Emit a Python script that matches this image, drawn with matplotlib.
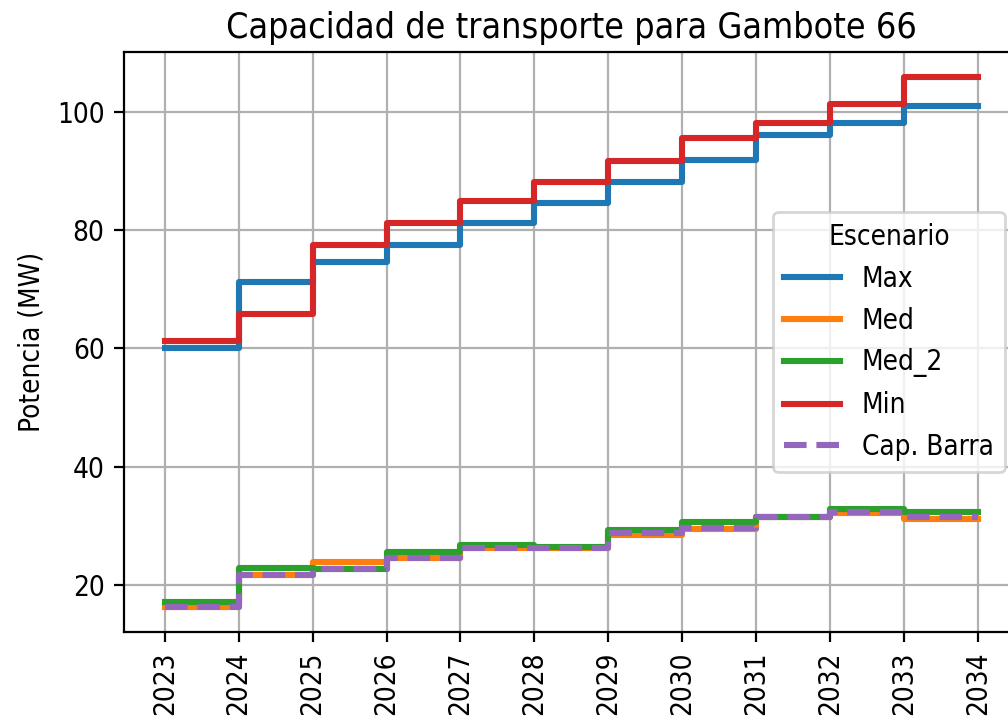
import matplotlib
matplotlib.use('Agg')
import matplotlib.pyplot as plt
import numpy as np

# --- years and scenario series (MW)
anios = np.arange(2023, 2035)
maxv = [60.1, 71.3, 74.6, 77.6, 81.2, 84.6, 88.2, 91.9, 96.1, 98.2, 101.0, 101.0]
med = [16.3, 21.7, 23.8, 24.5, 26.3, 26.2, 28.4, 29.4, 31.5, 32.1, 31.1, 31.1]
med2 = [17.0, 22.8, 22.7, 25.5, 26.8, 26.4, 29.2, 30.6, 31.5, 32.8, 32.3, 32.3]
minv = [61.3, 65.9, 77.6, 81.2, 84.9, 88.2, 91.8, 95.7, 98.2, 101.4, 105.9, 105.9]
cap_barra = [16.3, 21.7, 22.7, 24.5, 26.3, 26.3, 28.7, 29.6, 31.5, 32.3, 31.4, 31.4]

plt.rcParams['font.family'] = 'DejaVu Sans'
plt.rcParams['font.stretch'] = 'condensed'

fig = plt.figure(figsize=(1008/200, 719/200), dpi=200)
ax = fig.add_axes([0.123, 0.121, 0.8877, 0.8067])

lw = 2.2
ax.step(anios, maxv, where='post', color='tab:blue', lw=lw, label='Max')
ax.step(anios, med, where='post', color='tab:orange', lw=lw, label='Med')
ax.step(anios, med2, where='post', color='tab:green', lw=lw, label='Med_2')
ax.step(anios, minv, where='post', color='tab:red', lw=lw, label='Min')
ax.step(anios, cap_barra, where='post', color='tab:purple', lw=lw, ls='--', label='Cap. Barra')

ax.set_xticks(anios)
ax.set_xticklabels([str(a) for a in anios], rotation=90)
ax.set_xlim(2022.45, 2034.55)
ax.set_ylim(12.0, 110.2)
ax.grid(True)
ax.set_ylabel('Potencia (MW)')
ax.set_title('Capacidad de transporte para Gambote 66', fontsize=12.9, pad=5)
ax.legend(title='Escenario', loc='center right')

fig.savefig('out.png', dpi=200)
